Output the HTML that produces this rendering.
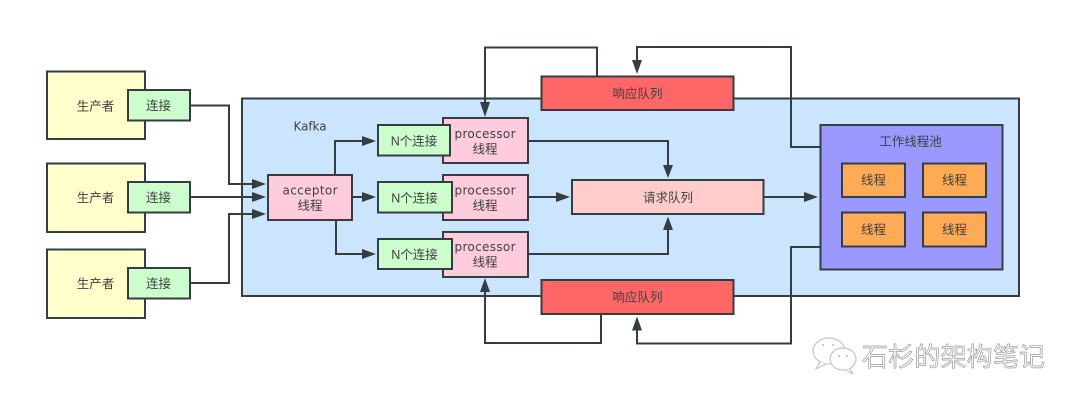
<!DOCTYPE html>
<html>
<head>
<meta charset="utf-8">
<style>
html,body{margin:0;padding:0;background:#fff;width:1080px;height:404px;overflow:hidden}
svg{display:block;filter:blur(0.35px)}
text{font-family:"Liberation Sans","Noto Sans CJK SC",sans-serif;font-size:12.5px;fill:#3f3f3f;text-anchor:middle;dominant-baseline:central}
.b{stroke:#333d42;stroke-width:2}
.l{fill:none;stroke:#333d42;stroke-width:2}
.h{fill:#333d42;stroke:none}
.latin{font-family:"DejaVu Sans",sans-serif;font-size:12px}
</style>
</head>
<body>
<svg width="1080" height="404" viewBox="0 0 1080 404" xmlns="http://www.w3.org/2000/svg">
<rect width="1080" height="404" fill="#fff"/>

<!-- Kafka container -->
<rect class="b" x="242" y="98.5" width="777" height="197.5" fill="#cce5ff"/>
<text class="latin" x="310" y="126.5" textLength="33" lengthAdjust="spacingAndGlyphs">Kafka</text>

<!-- producers -->
<rect class="b" x="47" y="71.5" width="98" height="67.5" fill="#ffffcc"/>
<rect class="b" x="47" y="163.5" width="98" height="68.5" fill="#ffffcc"/>
<rect class="b" x="47" y="249.5" width="98" height="68.5" fill="#ffffcc"/>
<text x="95.5" y="106.5">生产者</text>
<text x="95.5" y="198">生产者</text>
<text x="95.5" y="284">生产者</text>

<!-- connectors -->
<path class="l" d="M190 105.5H229V184H256"/>
<path class="l" d="M190 197H256"/>
<path class="l" d="M190 283H229V214H256"/>
<path class="l" d="M335 175V141H366"/>
<path class="l" d="M352 197H366"/>
<path class="l" d="M336 220V254H366"/>
<path class="l" d="M597 76V47.5H485V104"/>
<path class="l" d="M820 147H791V47H637V62"/>
<path class="l" d="M601 314V343H485V292"/>
<path class="l" d="M820 247H791V343.5H637V330"/>
<path class="l" d="M528 141H668V167"/>
<path class="l" d="M528 197H558"/>
<path class="l" d="M528 254H668V229"/>
<path class="l" d="M764 197H806"/>

<!-- connection boxes -->
<rect class="b" x="128" y="90" width="62" height="30.5" fill="#ccffcc"/>
<rect class="b" x="128" y="182" width="62" height="30.5" fill="#ccffcc"/>
<rect class="b" x="128" y="268" width="62" height="30.5" fill="#ccffcc"/>
<text x="158.5" y="106">连接</text>
<text x="158.5" y="198">连接</text>
<text x="158.5" y="284">连接</text>

<!-- acceptor -->
<rect class="b" x="268" y="175" width="84" height="45" fill="#ffccdd"/>
<text class="latin" x="310" y="190.5" textLength="55" lengthAdjust="spacing">acceptor</text>
<text x="310" y="206">线程</text>

<!-- processors -->
<rect class="b" x="443" y="118" width="85" height="45" fill="#ffccdd"/>
<rect class="b" x="443" y="175" width="85" height="45" fill="#ffccdd"/>
<rect class="b" x="443" y="232" width="85" height="45" fill="#ffccdd"/>
<text class="latin" x="485" y="134" textLength="61" lengthAdjust="spacing">processor</text>
<text x="485" y="149.5">线程</text>
<text class="latin" x="485" y="190.5" textLength="61" lengthAdjust="spacing">processor</text>
<text x="485" y="206">线程</text>
<text class="latin" x="485" y="247" textLength="61" lengthAdjust="spacing">processor</text>
<text x="485" y="262.5">线程</text>

<!-- N connections -->
<rect class="b" x="378" y="125" width="72" height="30.5" fill="#ccffcc"/>
<rect class="b" x="378" y="182" width="74" height="30.5" fill="#ccffcc"/>
<rect class="b" x="378" y="239" width="74" height="30" fill="#ccffcc"/>
<text x="414" y="141.5">N个连接</text>
<text x="414.5" y="198.5">N个连接</text>
<text x="414.5" y="255">N个连接</text>

<!-- queues -->
<rect class="b" x="541.5" y="76.5" width="192" height="33.5" fill="#ff6666"/>
<rect class="b" x="541.5" y="280" width="192" height="34" fill="#ff6666"/>
<text x="637.5" y="94">响应队列</text>
<text x="637.5" y="297.5">响应队列</text>
<rect class="b" x="572" y="180" width="191.5" height="34" fill="#ffcccc"/>
<text x="668" y="198">请求队列</text>

<!-- worker pool -->
<rect class="b" x="820.5" y="125" width="182" height="144.5" fill="#9999ff"/>
<text x="910.5" y="142">工作线程池</text>
<rect class="b" x="842" y="163.5" width="63" height="33.5" fill="#ffaa55"/>
<rect class="b" x="923" y="163.5" width="63" height="33.5" fill="#ffaa55"/>
<rect class="b" x="842" y="212.5" width="63" height="34" fill="#ffaa55"/>
<rect class="b" x="923" y="212.5" width="63" height="34" fill="#ffaa55"/>
<text x="873.5" y="180.5">线程</text>
<text x="954.5" y="180.5">线程</text>
<text x="873.5" y="230">线程</text>
<text x="954.5" y="230">线程</text>

<!-- arrowheads -->
<path class="h" d="M266 184L252 179V189Z"/>
<path class="h" d="M266 197L252 192V202Z"/>
<path class="h" d="M266 214L252 209V219Z"/>
<path class="h" d="M376 141L362 136V146Z"/>
<path class="h" d="M376 197L362 192V202Z"/>
<path class="h" d="M376 254L362 249V259Z"/>
<path class="h" d="M485 117L480 102H490Z"/>
<path class="h" d="M637 74L632 60H642Z"/>
<path class="h" d="M485 278L480 292H490Z"/>
<path class="h" d="M637 316.500L632 330.500H642Z"/>
<path class="h" d="M668 178L663 165H673Z"/>
<path class="h" d="M668 216.500L663 230H673Z"/>
<path class="h" d="M570 197L556 192V202Z"/>
<path class="h" d="M818 197L804 192V202Z"/>

<!-- watermark -->
<g fill="#fff" stroke="#c4c4c4" stroke-width="1.2">
<ellipse cx="829" cy="351" rx="16" ry="13"/>
<path d="M820 362L816 369L826 364" />
<ellipse cx="843" cy="359" rx="13" ry="11"/>
<path d="M849 368L853 374L846 370"/>
</g>
<g fill="#bbb">
<circle cx="823" cy="345" r="1"/><circle cx="833" cy="345" r="1"/>
<circle cx="839" cy="356" r="1"/><circle cx="847" cy="356" r="1"/>
</g>
<text x="953.5" y="357" style="font-size:26px;fill:#fff;stroke:#9a9a9a;stroke-width:0.7px" textLength="183" lengthAdjust="spacing">石杉的架构笔记</text>
</svg>
</body>
</html>
